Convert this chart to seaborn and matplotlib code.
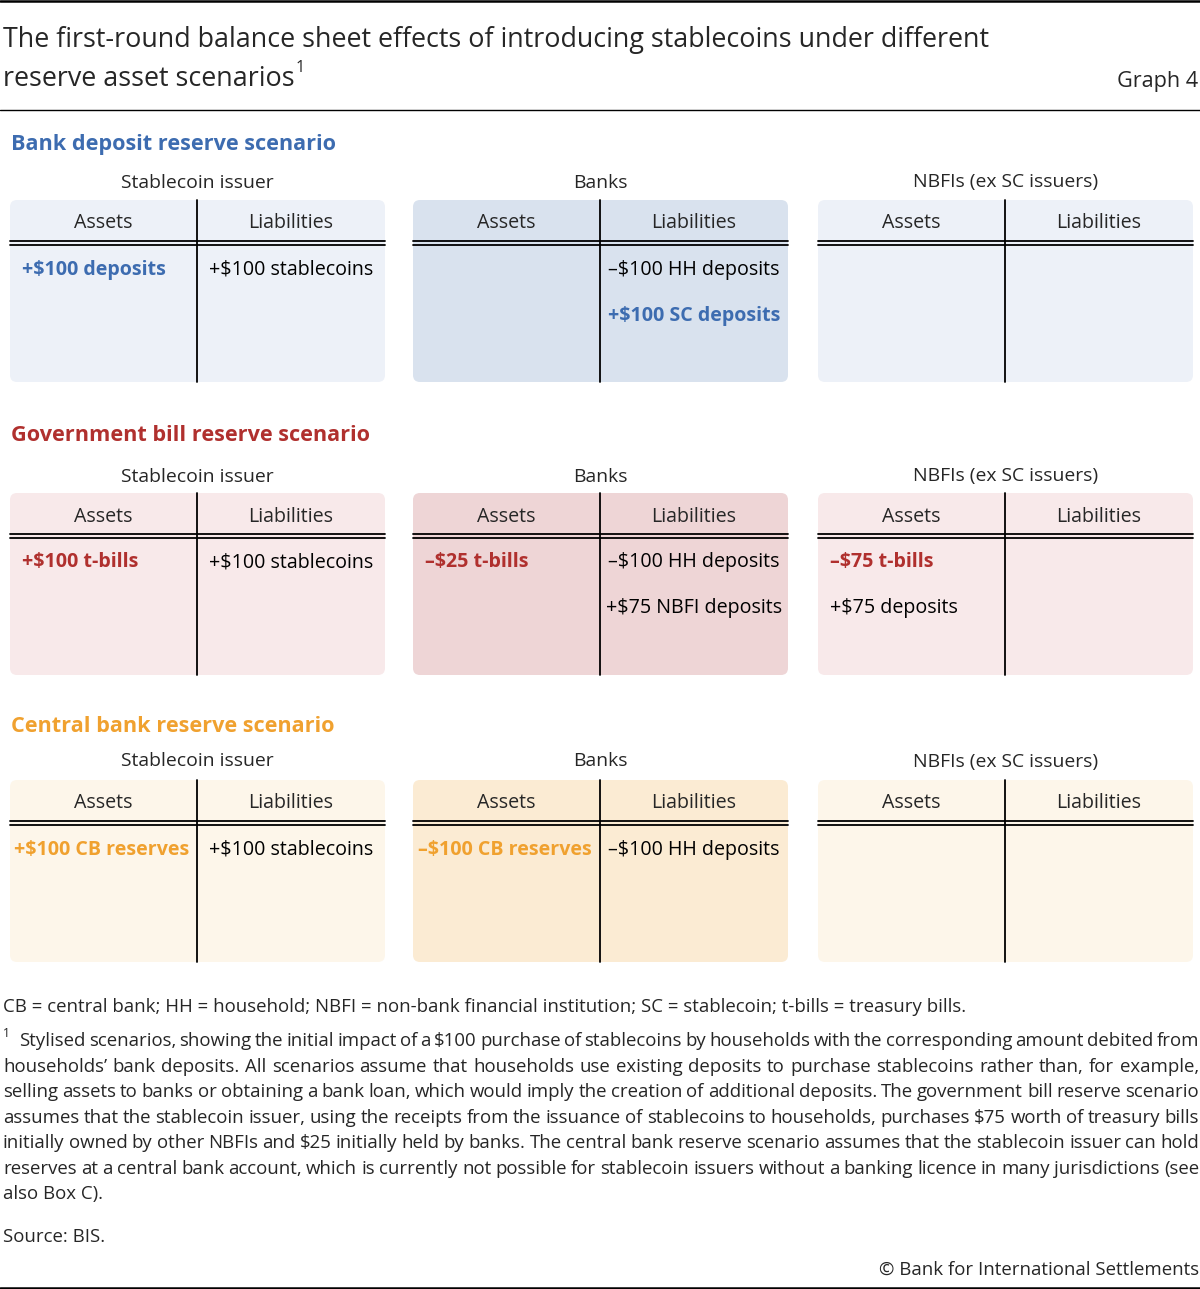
import matplotlib
matplotlib.use("Agg")
import matplotlib.pyplot as plt
from matplotlib.patches import FancyBboxPatch
import seaborn as sns

# ---- content -------------------------------------------------------------
title_lines = ["The first-round balance sheet effects of introducing stablecoins under different",
               "reserve asset scenarios"]
graph_label = "Graph 4"

scenario_titles = ["Bank deposit reserve scenario",
                   "Government bill reserve scenario",
                   "Central bank reserve scenario"]
entity_names = ["Stablecoin issuer", "Banks", "NBFIs (ex SC issuers)"]
column_heads = ["Assets", "Liabilities"]

# entries per scenario -> per entity
bank_deposit_assets = [["+$100 deposits"], [], []]
bank_deposit_liabs = [["+$100 stablecoins"], ["–$100 HH deposits", "+$100 SC deposits"], []]
bank_deposit_hl = ["+$100 deposits", "+$100 SC deposits"]

gov_bill_assets = [["+$100 t-bills"], ["–$25 t-bills"], ["–$75 t-bills", "+$75 deposits"]]
gov_bill_liabs = [["+$100 stablecoins"], ["–$100 HH deposits", "+$75 NBFI deposits"], []]
gov_bill_hl = ["+$100 t-bills", "–$25 t-bills", "–$75 t-bills"]

cb_assets = [["+$100 CB reserves"], ["–$100 CB reserves"], []]
cb_liabs = [["+$100 stablecoins"], ["–$100 HH deposits"], []]
cb_hl = ["+$100 CB reserves", "–$100 CB reserves"]

all_assets = [bank_deposit_assets, gov_bill_assets, cb_assets]
all_liabs = [bank_deposit_liabs, gov_bill_liabs, cb_liabs]
all_hl = [bank_deposit_hl, gov_bill_hl, cb_hl]

title_colors = ["#3d6cb0", "#b0302e", "#f0a12f"]
light_fill = ["#edf1f8", "#f8e9ea", "#fdf6ea"]
bank_fill = ["#d9e2ee", "#eed5d6", "#fbebd3"]

abbrev_note = ("CB = central bank; HH = household; NBFI = non-bank financial institution; "
               "SC = stablecoin; t-bills = treasury bills.")
footnote_lines = [
    "Stylised scenarios, showing the initial impact of a $100 purchase of stablecoins by households with the corresponding amount debited from",
    "households’ bank deposits. All scenarios assume that households use existing deposits to purchase stablecoins rather than, for example,",
    "selling assets to banks or obtaining a bank loan, which would imply the creation of additional deposits. The government bill reserve scenario",
    "assumes that the stablecoin issuer, using the receipts from the issuance of stablecoins to households, purchases $75 worth of treasury bills",
    "initially owned by other NBFIs and $25 initially held by banks. The central bank reserve scenario assumes that the stablecoin issuer can hold",
    "reserves at a central bank account, which is currently not possible for stablecoin issuers without a banking licence in many jurisdictions (see",
    "also Box C).",
]
source_note = "Source: BIS."
copyright_note = "© Bank for International Settlements"

# ---- style ---------------------------------------------------------------
sns.set_theme(style="white")
plt.rcParams["font.family"] = ["Open Sans", "DejaVu Sans"]

W, H = 1200, 1289
DY = 2.5  # text sits a touch lower than bbox centre
fig = plt.figure(figsize=(W / 100, H / 100), dpi=100)
ax = fig.add_axes([0, 0, 1, 1])
ax.set_xlim(0, W)
ax.set_ylim(H, 0)
ax.axis("off")
renderer = fig.canvas.get_renderer()


def text_width(s, size, weight="normal"):
    t = ax.text(0, 0, s, fontsize=size, fontweight=weight)
    w = t.get_window_extent(renderer).width
    t.remove()
    return w


def fit_size(s, target, weight="normal"):
    return 20 * target / text_width(s, 20, weight)


def put(x, y, s, **kw):
    kw.setdefault("va", "center")
    return ax.text(x, y + DY, s, **kw)


sz_title = fit_size(title_lines[0], 987)
sz_graph = fit_size(graph_label, 81)
sz_section = fit_size(scenario_titles[0], 325, "bold")
sz_entity = fit_size(entity_names[0], 152)
sz_head = fit_size(column_heads[1], 85)
sz_entry = fit_size("+$100 stablecoins", 164)
sz_note = fit_size(abbrev_note, 964)

# ---- header --------------------------------------------------------------
ax.axhline(1, color="black", lw=1.8)
put(3, 38, title_lines[0], fontsize=sz_title, ha="left")
t2 = put(3, 76, title_lines[1], fontsize=sz_title, ha="left")
x_sup = 3 + t2.get_window_extent(renderer).width + 1
put(x_sup, 66, "1", fontsize=sz_title * 0.6, ha="left")
put(1198, 79, graph_label, fontsize=sz_graph, ha="right")
ax.plot([0, W], [109.5, 109.5], color="black", lw=1.0)

# ---- balance sheets ------------------------------------------------------
box_lefts = [10, 413, 818]
box_w = 375
box_h = 182
title_ys = [142, 433, 724]
label_ys = [180, 474, 759]
box_tops = [200, 493, 780]

for s in range(3):
    put(11, title_ys[s], scenario_titles[s], fontsize=sz_section, fontweight="bold",
        color=title_colors[s], ha="left")
    top = box_tops[s]
    for e in range(3):
        left = box_lefts[e]
        mid = left + 187
        fill = bank_fill[s] if e == 1 else light_fill[s]
        ax.add_patch(FancyBboxPatch((left + 7, top + 7), box_w - 14, box_h - 14,
                                    boxstyle="round,pad=7", facecolor=fill, edgecolor="none"))
        put(left + box_w / 2, label_ys[s], entity_names[e], fontsize=sz_entity, ha="center")
        put((left + mid) / 2, top + 21, column_heads[0], fontsize=sz_head, ha="center")
        put((mid + left + box_w) / 2, top + 21, column_heads[1], fontsize=sz_head, ha="center")
        ax.plot([left, left + box_w], [top + 41, top + 41], color="black", lw=1.3)
        ax.plot([left, left + box_w], [top + 44.5, top + 44.5], color="black", lw=1.3)
        ax.plot([mid, mid], [top, top + box_h], color="black", lw=1.3)

        row_ys = [top + 67, top + 113]
        for i, item in enumerate(all_assets[s][e]):
            hl = item in all_hl[s]
            wt = "bold" if hl else "normal"
            w = text_width(item, sz_entry, wt)
            x = left + 12 if w < mid - left - 26 else left + max(2, (mid - left - w) / 2 - 2)
            put(x, row_ys[i], item, fontsize=sz_entry, fontweight=wt,
                color=title_colors[s] if hl else "black", ha="left")
        for i, item in enumerate(all_liabs[s][e]):
            hl = item in all_hl[s]
            wt = "bold" if hl else "normal"
            put((mid + left + box_w) / 2, row_ys[i], item, fontsize=sz_entry, fontweight=wt,
                color=title_colors[s] if hl else "black", ha="center")

# ---- notes ---------------------------------------------------------------
put(3, 1005, abbrev_note, fontsize=sz_note, ha="left")
put(3, 1031, "1", fontsize=sz_note * 0.65, ha="left")

note_ys = [1040, 1065.5, 1091, 1116.5, 1142, 1167.5, 1193]
note_px = sz_note * 100 / 72
base_off = 0.33 * note_px  # baseline below visual line centre
right_edge = 1199
for i, line in enumerate(footnote_lines):
    x0 = 19 if i == 0 else 3
    yb = note_ys[i] + base_off
    if i == len(footnote_lines) - 1:
        ax.text(x0, yb, line, fontsize=sz_note, ha="left", va="baseline")
        continue
    words = line.split(" ")
    widths = [text_width(wd, sz_note) for wd in words]
    gap = (right_edge - x0 - sum(widths)) / (len(words) - 1)
    x = x0
    for wd, w in zip(words, widths):
        ax.text(x, yb, wd, fontsize=sz_note, ha="left", va="baseline")
        x += w + gap

put(3, 1235, source_note, fontsize=sz_note, ha="left")
put(1199, 1267, copyright_note, fontsize=sz_note, ha="right")
ax.axhline(1287.5, color="black", lw=1.8)

fig.savefig("out.png", dpi=100)
